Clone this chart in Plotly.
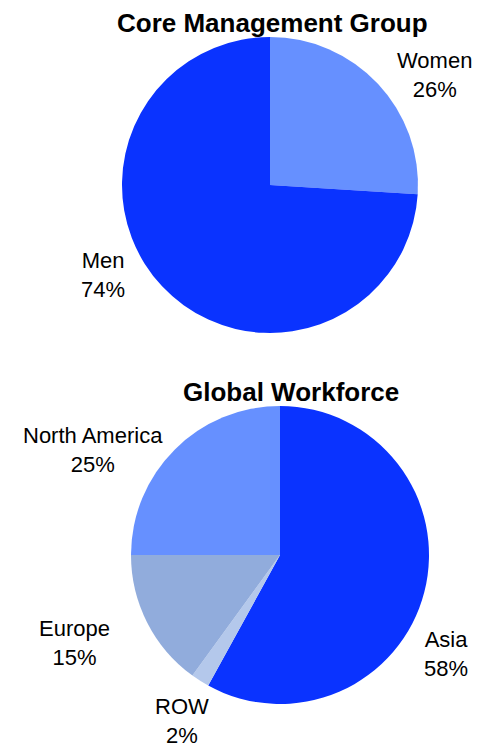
import plotly.graph_objects as go

W, H = 483, 748

mgmt_labels = ["Women", "Men"]
mgmt_values = [26, 74]
mgmt_colors = ["#6690FF", "#0A33FF"]

wf_labels = ["Asia", "ROW", "Europe", "North America"]
wf_values = [58, 2, 15, 25]
wf_colors = ["#0A33FF", "#B4C8EB", "#91ACDC", "#6690FF"]

titles = ["Core Management Group", "Global Workforce"]

# label placement (pixel centres), layout only
mgmt_label_pos = [(434, 75), (103, 275)]
wf_label_pos = [(446, 654), (182, 721), (74, 643), (93, 450)]
title_pos = [(272, 23), (291, 392)]

font_family = "Liberation Sans, Arial, sans-serif"

fig = go.Figure()
fig.add_trace(go.Pie(
    labels=mgmt_labels, values=mgmt_values, sort=False, direction="clockwise",
    rotation=0, marker=dict(colors=mgmt_colors, line=dict(width=0)),
    textinfo="none",
    domain=dict(x=[122 / W, 418 / W], y=[1 - 333 / H, 1 - 37 / H]),
    showlegend=False, hoverinfo="label+percent",
))
fig.add_trace(go.Pie(
    labels=wf_labels, values=wf_values, sort=False, direction="clockwise",
    rotation=0, marker=dict(colors=wf_colors, line=dict(width=0)),
    textinfo="none",
    domain=dict(x=[131 / W, 429 / W], y=[1 - 704 / H, 1 - 406 / H]),
    showlegend=False, hoverinfo="label+percent",
))


def add_labels(labels, values, positions):
    total = float(sum(values))
    for lab, v, (px, py) in zip(labels, values, positions):
        fig.add_annotation(
            text="%s<br>%d%%" % (lab, round(100 * v / total)),
            x=px / W, y=1 - py / H, xref="paper", yref="paper",
            showarrow=False, xanchor="center", yanchor="middle", align="center",
            font=dict(family=font_family, size=22, color="#000000"),
        )


add_labels(mgmt_labels, mgmt_values, mgmt_label_pos)
add_labels(wf_labels, wf_values, wf_label_pos)

for t, (px, py) in zip(titles, title_pos):
    fig.add_annotation(
        text="<b>%s</b>" % t, x=px / W, y=1 - py / H, xref="paper", yref="paper",
        showarrow=False, xanchor="center", yanchor="middle",
        font=dict(family=font_family, size=26, color="#000000"),
    )

fig.update_layout(
    width=W, height=H, margin=dict(l=0, r=0, t=0, b=0),
    paper_bgcolor="#FFFFFF", plot_bgcolor="#FFFFFF",
)
fig.write_html("out.html")
